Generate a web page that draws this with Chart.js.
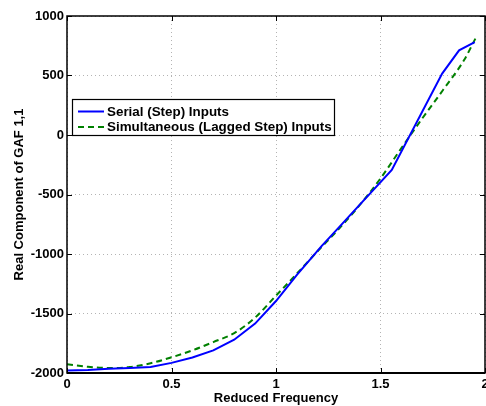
<!DOCTYPE html>
<html>
<head>
<meta charset="utf-8">
<script src="https://cdn.jsdelivr.net/npm/chart.js@4/dist/chart.umd.min.js"></script>
<style>
    html, body { margin: 0; padding: 0; background: #fff; }
    #wrap { width: 486px; height: 406px; }
</style>
</head>
<body>
<div id="wrap"><canvas id="gafChart" width="486" height="406"></canvas></div>
<script>
// Values
const serialFreq = [0, 0.1, 0.2, 0.3, 0.4, 0.5, 0.6, 0.7, 0.8, 0.9, 1.0, 1.1, 1.218, 1.3, 1.4, 1.554, 1.795, 1.876, 1.951];
const serialValues = [-1980, -1975, -1965, -1957, -1950, -1915, -1870, -1810, -1720, -1585, -1395, -1175, -934, -778, -587, -293, 516, 711, 780];

const laggedFreq = [0, 0.1, 0.2, 0.3, 0.4, 0.5, 0.6, 0.7, 0.8, 0.9, 1.0, 1.1, 1.2, 1.3, 1.4, 1.5, 1.6, 1.7, 1.8, 1.9, 1.954];
const laggedValues = [-1927, -1948, -1958, -1950, -1918, -1868, -1810, -1740, -1665, -1535, -1350, -1165, -975, -790, -590, -365, -110, 140, 380, 630, 810];

const seriesLabels = ['Serial (Step) Inputs', 'Simultaneous (Lagged Step) Inputs'];
const xTicks = [0, 0.5, 1, 1.5, 2];
const yTicks = [-2000, -1500, -1000, -500, 0, 500, 1000];

const FONT = 'Liberation Sans, Arial, Helvetica, sans-serif';

const toPoints = (xs, ys) => xs.map((x, i) => ({ x: x, y: ys[i] }));

// Box around the axes plus inward tick marks (MATLAB style)
const boxPlugin = {
    id: 'axesBox',
    afterDatasetsDraw(chart) {
        const { ctx, chartArea: a, scales } = chart;
        ctx.save();
        ctx.strokeStyle = '#000';
        ctx.lineWidth = 1;
        const len = 5;
        ctx.beginPath();
        xTicks.forEach(v => {
            const px = Math.round(scales.x.getPixelForValue(v)) + 0.5;
            ctx.moveTo(px, a.bottom); ctx.lineTo(px, a.bottom - len);
            ctx.moveTo(px, a.top); ctx.lineTo(px, a.top + len);
        });
        yTicks.forEach(v => {
            const py = Math.round(scales.y.getPixelForValue(v)) + 0.5;
            ctx.moveTo(a.left, py); ctx.lineTo(a.left + len, py);
            ctx.moveTo(a.right, py); ctx.lineTo(a.right - len, py);
        });
        ctx.stroke();
        ctx.lineWidth = 1.5;
        ctx.strokeRect(a.left, a.top, a.right - a.left, a.bottom - a.top);
        // bottom axis looks heavier in the reference
        ctx.lineWidth = 2;
        ctx.beginPath();
        ctx.moveTo(a.left, a.bottom);
        ctx.lineTo(a.right, a.bottom);
        ctx.stroke();
        ctx.restore();
    }
};

// Legend box drawn inside the plot, upper left
const legendPlugin = {
    id: 'insideLegend',
    afterDraw(chart) {
        const ctx = chart.ctx;
        const box = { x: 72.5, y: 99.5, w: 262, h: 36 };
        ctx.save();
        ctx.fillStyle = '#fff';
        ctx.fillRect(box.x, box.y, box.w, box.h);
        ctx.strokeStyle = '#000';
        ctx.lineWidth = 1.2;
        ctx.strokeRect(box.x, box.y, box.w, box.h);
        ctx.font = 'bold 13.4px ' + FONT;
        ctx.textBaseline = 'middle';
        ctx.fillStyle = '#000';
        chart.data.datasets.forEach((ds, i) => {
            const y = box.y + 12 + i * 15.5;
            ctx.beginPath();
            ctx.strokeStyle = ds.borderColor;
            ctx.lineWidth = ds.borderWidth;
            ctx.setLineDash(ds.borderDash || []);
            ctx.moveTo(78, y);
            ctx.lineTo(104, y);
            ctx.stroke();
            ctx.setLineDash([]);
            ctx.fillText(ds.label, 107, y + 0.5);
        });
        ctx.restore();
    }
};

const gridOpts = { color: '#b4b4b4', drawTicks: false, lineWidth: 1 };
const borderOpts = { display: false, dash: [1, 3] };

new Chart(document.getElementById('gafChart'), {
    type: 'scatter',
    data: {
        datasets: [
            {
                label: seriesLabels[0],
                data: toPoints(serialFreq, serialValues),
                showLine: true,
                borderColor: '#0000ff',
                borderWidth: 2,
                pointRadius: 0,
                tension: 0
            },
            {
                label: seriesLabels[1],
                data: toPoints(laggedFreq, laggedValues),
                showLine: true,
                borderColor: '#008000',
                borderWidth: 2,
                borderDash: [6, 4],
                pointRadius: 0,
                cubicInterpolationMode: 'monotone'
            }
        ]
    },
    options: {
        responsive: false,
        animation: false,
        layout: { padding: { top: 16, right: 1, bottom: 0, left: 0 } },
        plugins: {
            legend: { display: false },
            tooltip: { enabled: false }
        },
        scales: {
            x: {
                type: 'linear',
                min: 0,
                max: 2,
                afterBuildTicks: (s) => { s.ticks = xTicks.map(v => ({ value: v })); },
                afterFit: (s) => { s.height = 33; s.paddingLeft = 0; s.paddingRight = 0; },
                grid: gridOpts,
                border: borderOpts,
                ticks: {
                    padding: 4,
                    color: '#000',
                    maxRotation: 0,
                    font: { family: FONT, size: 13, weight: 'bold' },
                    callback: (v) => String(v)
                },
                title: {
                    display: true,
                    text: 'Reduced Frequency',
                    color: '#000',
                    padding: 0,
                    font: { family: FONT, size: 13, weight: 'bold' }
                }
            },
            y: {
                type: 'linear',
                min: -2000,
                max: 1000,
                afterBuildTicks: (s) => { s.ticks = yTicks.map(v => ({ value: v })); },
                afterFit: (s) => { s.width = 67; s.paddingTop = 0; s.paddingBottom = 0; },
                grid: gridOpts,
                border: borderOpts,
                ticks: {
                    padding: 3,
                    color: '#000',
                    font: { family: FONT, size: 13, weight: 'bold' },
                    callback: (v) => String(v)
                },
                title: {
                    display: true,
                    text: 'Real Component of GAF 1,1',
                    color: '#000',
                    padding: { top: 12, bottom: 0 },
                    font: { family: FONT, size: 13, weight: 'bold' }
                }
            }
        }
    },
    plugins: [boxPlugin, legendPlugin]
});
</script>
</body>
</html>
